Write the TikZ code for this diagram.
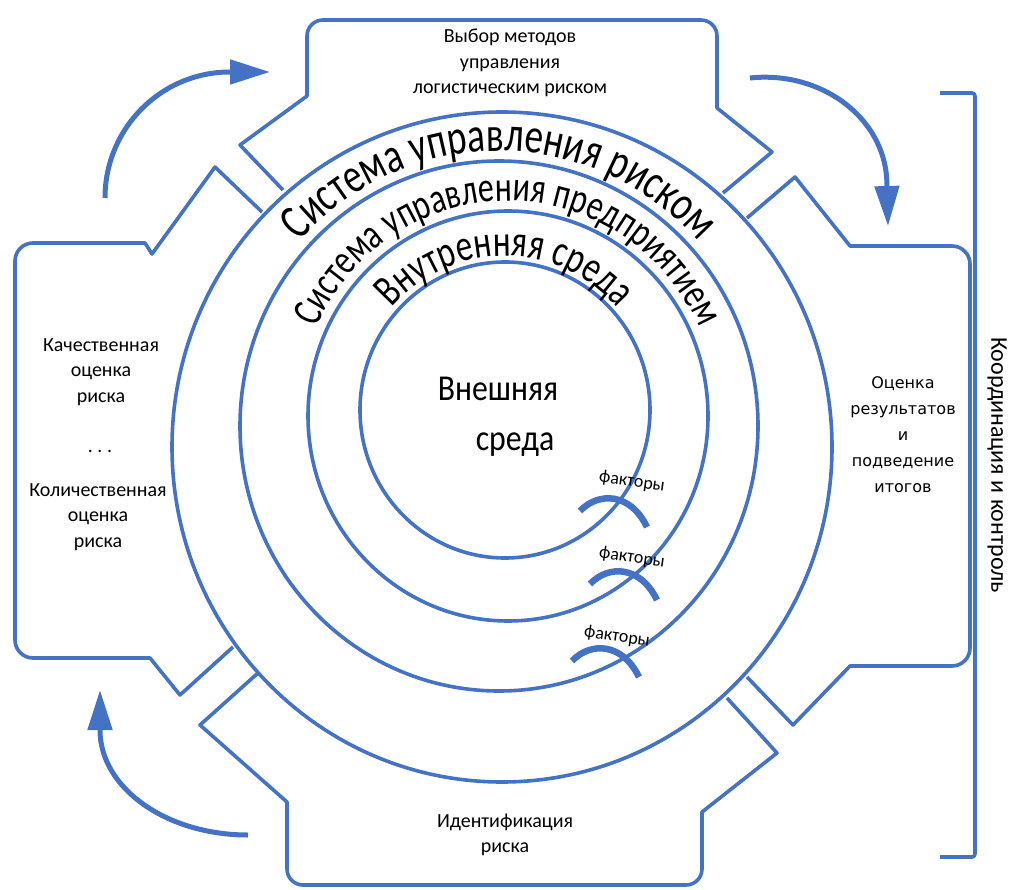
\documentclass[tikz,border=0pt]{standalone}
\usepackage{fontspec}
\setmainfont{Carlito}
\newfontfamily\widefont{DejaVu Sans}
\newfontfamily\tallfont[FakeStretch=0.75]{Carlito}
\newfontfamily\midfont[FakeStretch=0.87]{Carlito}
\usetikzlibrary{arrows.meta,decorations.text}
\definecolor{ringblue}{HTML}{4472C4}

\begin{document}
\begin{tikzpicture}[x=1pt, y=-1pt,
    ringline/.style={ringblue, line width=3.6pt, line join=round},
    turnarrow/.style={ringblue, line width=5pt, -{Triangle[length=40pt, width=24pt]}},
    factorarc/.style={ringblue, line width=6.5pt},
    boxtext/.style={align=center, inner sep=0pt, font=\fontsize{20}{25.5}\selectfont},
    factortext/.style={inner sep=0pt, rotate=-8, font=\fontsize{18}{18}\selectfont}]

  \useasboundingbox (0,0) rectangle (1011,890);

  % centres of the rings
  \coordinate (c1) at (505,410);
  \coordinate (c2) at (508,416);
  \coordinate (c3) at (499,426);
  \coordinate (c4) at (502,447);

  % rings
  \draw[ringline] (c1) ellipse[x radius=145, y radius=148];
  \draw[ringline] (c2) ellipse[x radius=200, y radius=205];
  \draw[ringline] (c3) ellipse[x radius=259, y radius=265];
  \draw[ringline] (c4) ellipse[x radius=330, y radius=335];

  % ring titles
  \path[shift={(c3)}, decorate, decoration={text along path, text align=center,
      text={|\tallfont\fontsize{49.5}{49.5}\selectfont|Система управления риском}}]
    (200:269 and 275) arc[start angle=200, end angle=340, x radius=269, y radius=275];
  \path[shift={(c2)}, decorate, decoration={text along path, text align=center,
      text={|\tallfont\fontsize{42.5}{42.5}\selectfont|Система управления предприятием}}]
    (180:210 and 215) arc[start angle=180, end angle=360, x radius=210, y radius=215];
  \path[shift={(c1)}, decorate, decoration={text along path, text align=center,
      text={|\tallfont\fontsize{44.5}{44.5}\selectfont|Внутренняя среда}}]
    (180:151 and 154) arc[start angle=180, end angle=360, x radius=151, y radius=154];

  \node[anchor=base, inner sep=0pt, font=\midfont\fontsize{36.5}{36.5}\selectfont] (outer1) at (498,400) {Внешняя};
  \node[anchor=base, inner sep=0pt, font=\midfont\fontsize{36.5}{36.5}\selectfont] (outer2) at (515,450) {среда};

  % top block
  \draw[ringline] (283,190) -- (240,145) -- (307,96) -- (307,36)
    arc[start angle=180, end angle=270, radius=16] -- (701,20)
    arc[start angle=270, end angle=360, radius=16] -- (717,108) -- (772,152) -- (723,193);

  % right block
  \draw[ringline] (747,218) -- (795,177) -- (850,246) -- (952,246)
    arc[start angle=270, end angle=360, radius=18] -- (970,648)
    arc[start angle=0, end angle=90, radius=18] -- (850,666) -- (793,725) -- (747,677);

  % bottom block
  \draw[ringline] (727,698) -- (777,753) -- (702,812) -- (702,869)
    arc[start angle=0, end angle=90, radius=16] -- (303,885)
    arc[start angle=90, end angle=180, radius=16] -- (287,802) -- (200,725) -- (258,673);

  % left block
  \draw[ringline] (233,647) -- (180,695) -- (150,658) -- (33,658)
    arc[start angle=90, end angle=180, radius=18] -- (15,261)
    arc[start angle=180, end angle=270, radius=18] -- (145,243) -- (152,254) -- (215,167) -- (262,212);

  % block texts
  \node[boxtext] (choice) at (510,63) {Выбор методов\\управления\\логистическим риском};
  \node[boxtext] (quality) at (101,372) {Качественная\\оценка\\риска};
  \node[boxtext] (dots) at (100,451) {.\ .\ .};
  \node[boxtext] (quantity) at (98,517) {Количественная\\оценка\\риска};
  \node[boxtext, font=\widefont\fontsize{16}{26}\selectfont] (results) at (903,435)
    {Оценка\\результатов\\и\\подведение\\итогов};
  \node[boxtext] (ident) at (505,835) {Идентификация\\риска};

  % turning arrows
  \coordinate (tl tip) at (270,72);
  \coordinate (tr tip) at (888,226);
  \coordinate (bl tip) at (100,690);
  \draw[turnarrow] (105,198) arc[start angle=180, end angle=270, x radius=125, y radius=126] -- (tl tip);
  \draw[turnarrow] (750,78) arc[start angle=263, end angle=360, x radius=122, y radius=107] -- (tr tip);
  \draw[turnarrow] (248,835) arc[start angle=90, end angle=180, x radius=148, y radius=105] -- (bl tip);

  % factors
  \foreach \fx/\fy/\lx/\ly [count=\i] in {580/511/632/482, 590/584/632/558, 572/661/617/637}{
    \draw[factorarc, shift={(\fx,\fy)}] (0,0) .. controls (18,-19) and (50,-19) .. (67,16);
    \node[factortext] (factor\i) at (\lx,\ly) {факторы};
  }

  % coordination bracket
  \draw[ringline, rounded corners=3pt] (940,93) -- (975,93) -- (975,857) -- (940,857);
  \node[rotate=-90, inner sep=0pt, font=\fontsize{24}{24}\selectfont] (control) at (997,465) {Координация и контроль};
\end{tikzpicture}
\end{document}
